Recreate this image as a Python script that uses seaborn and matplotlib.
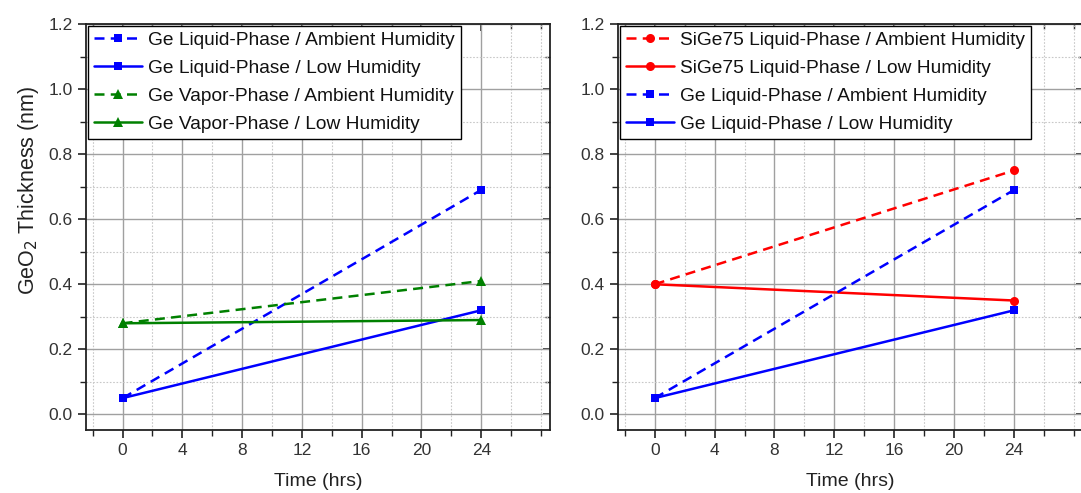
import matplotlib
matplotlib.use("Agg")
import matplotlib.pyplot as plt
from matplotlib.ticker import MultipleLocator, FormatStrFormatter, NullFormatter
import seaborn as sns
import pandas as pd

sns.set_theme(style="white")
plt.rcParams['font.family'] = ['Liberation Sans', 'DejaVu Sans']

# ---- data ----
time_hrs = [0, 24]
ge_liq_ambient = [0.05, 0.69]
ge_liq_low = [0.05, 0.32]
ge_vap_ambient = [0.28, 0.41]
ge_vap_low = [0.28, 0.29]
sige_liq_ambient = [0.40, 0.75]
sige_liq_low = [0.40, 0.35]
x_ticks = [0, 4, 8, 12, 16, 20, 24]
x_tick_labels = ["0", "4", "8", "12", "16", "20", "24"]

left_series = [
    ("Ge Liquid-Phase / Ambient Humidity", ge_liq_ambient, "#0000FF", "s", "dash"),
    ("Ge Liquid-Phase / Low Humidity", ge_liq_low, "#0000FF", "s", "solid"),
    ("Ge Vapor-Phase / Ambient Humidity", ge_vap_ambient, "#008000", "^", "dash"),
    ("Ge Vapor-Phase / Low Humidity", ge_vap_low, "#008000", "^", "solid"),
]
right_series = [
    ("SiGe75 Liquid-Phase / Ambient Humidity", sige_liq_ambient, "#FF0000", "o", "dash"),
    ("SiGe75 Liquid-Phase / Low Humidity", sige_liq_low, "#FF0000", "o", "solid"),
    ("Ge Liquid-Phase / Ambient Humidity", ge_liq_ambient, "#0000FF", "s", "dash"),
    ("Ge Liquid-Phase / Low Humidity", ge_liq_low, "#0000FF", "s", "solid"),
]

W, H = 1081, 493
fig = plt.figure(figsize=(W / 100, H / 100), dpi=100)
ax1 = fig.add_axes([86 / W, 1 - 430 / H, 464 / W, 406 / H])
ax2 = fig.add_axes([618 / W, 1 - 430 / H, 465 / W, 406 / H])

SPC = "#222222"
for ax, series in ((ax1, left_series), (ax2, right_series)):
    for label, vals, color, marker, ls in series:
        df = pd.DataFrame({"t": time_hrs, "v": vals})
        sns.lineplot(data=df, x="t", y="v", ax=ax, color=color, marker=marker,
                     markersize=6.5 if marker != "s" else 6, markeredgewidth=0,
                     linewidth=1.8,
                     linestyle=(0, (4, 2.5)) if ls == "dash" else "-",
                     label=label)
    ax.set_xlim(-2.45, 28.6)
    ax.set_ylim(-0.048, 1.2)
    ax.set_xticks(x_ticks)
    ax.set_xticklabels(x_tick_labels)
    ax.xaxis.set_minor_locator(MultipleLocator(2))
    ax.yaxis.set_major_locator(MultipleLocator(0.2))
    ax.yaxis.set_minor_locator(MultipleLocator(0.1))
    ax.yaxis.set_major_formatter(FormatStrFormatter("%.1f"))
    ax.grid(which="major", color="#a0a0a0", linewidth=1.0, linestyle="-")
    ax.grid(which="minor", color="#c8c8c8", linewidth=0.8, linestyle=(0, (1.5, 1.5)))
    ax.set_axisbelow(True)
    for sp in ax.spines.values():
        sp.set_color(SPC)
        sp.set_linewidth(1.3)
        sp.set_visible(True)
    ax.tick_params(which="both", left=True, bottom=True, top=False, right=False,
                   color=SPC, labelcolor="#333333", labelsize=12.5, direction="out")
    ax.tick_params(which="major", length=6, width=1.2)
    ax.tick_params(which="minor", length=4, width=1.0)

    # inward ticks on top and right
    secx = ax.secondary_xaxis("top")
    secx.set_xticks(x_ticks)
    secx.xaxis.set_minor_locator(MultipleLocator(2))
    secx.xaxis.set_major_formatter(NullFormatter())
    secx.tick_params(which="both", direction="in", color=SPC)
    secx.tick_params(which="major", length=5, width=1.2)
    secx.tick_params(which="minor", length=3.5, width=1.0)
    secx.spines["top"].set_visible(False)
    secy = ax.secondary_yaxis("right")
    secy.yaxis.set_major_locator(MultipleLocator(0.2))
    secy.yaxis.set_minor_locator(MultipleLocator(0.1))
    secy.yaxis.set_major_formatter(NullFormatter())
    secy.tick_params(which="both", direction="in", color=SPC)
    secy.tick_params(which="major", length=5, width=1.2)
    secy.tick_params(which="minor", length=3.5, width=1.0)
    secy.spines["right"].set_visible(False)

    ax.set_xlabel("Time (hrs)", fontsize=14, color=SPC, labelpad=11)
    ax.set_ylabel("")
    leg = ax.legend(loc="upper left", fontsize=13.8, frameon=True, fancybox=False,
                    edgecolor="black", framealpha=1, borderaxespad=0.1,
                    handlelength=2.5, handletextpad=0.35, labelspacing=0.55,
                    borderpad=0.3)
    leg.get_frame().set_linewidth(1.0)
    for t in leg.get_texts():
        t.set_color("#111111")

ax1.set_ylabel("GeO$_2$ Thickness (nm)", fontsize=15.5, color=SPC)
ax1.yaxis.set_label_coords(-0.097, (430 - 190) / 406)

fig.savefig("out.png", dpi=100)
